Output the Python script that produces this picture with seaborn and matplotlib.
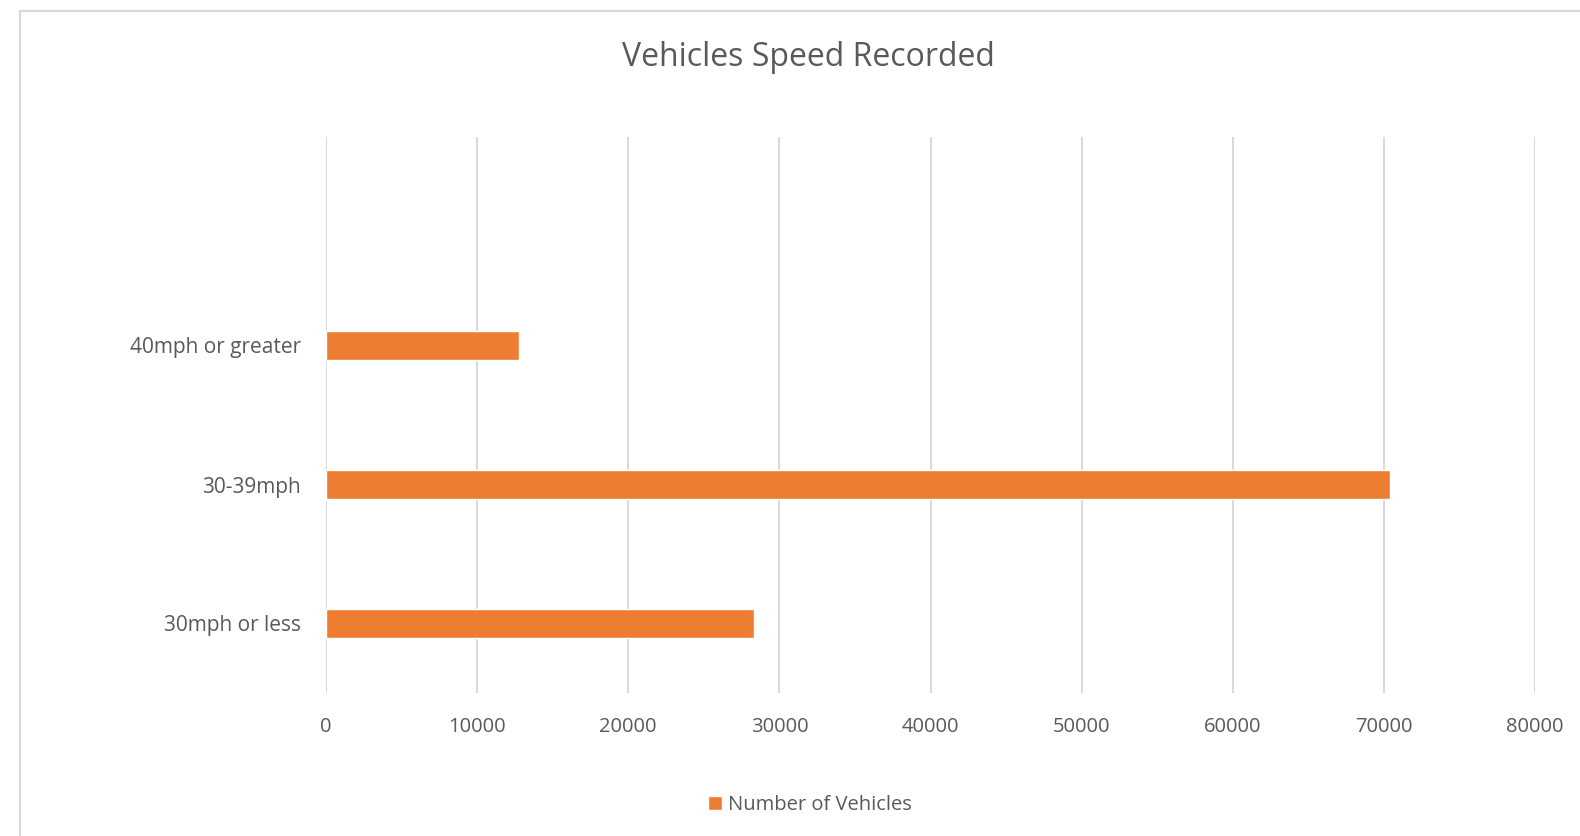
import pandas as pd
import matplotlib.pyplot as plt
import seaborn as sns
from matplotlib.lines import Line2D

# --- 데이터 ---
speed_bands = ["40mph or greater", "30-39mph", "30mph or less"]
vehicle_counts = [12800, 70400, 28300]
x_ticks = [0, 10000, 20000, 30000, 40000, 50000, 60000, 70000, 80000]

BAR_COLOR = "#ED7D31"
TEXT_COLOR = "#595959"
GRID_COLOR = "#D9D9D9"

sns.set_theme(style="white")
plt.rcParams["font.family"] = ["Open Sans", "DejaVu Sans"]

df = pd.DataFrame({"band": speed_bands, "count": vehicle_counts})

fig = plt.figure(figsize=(15.8, 8.36), dpi=100)
ax = fig.add_axes([326 / 1580, 1 - 693 / 836, (1535 - 326) / 1580, (693 - 137) / 836])

sns.barplot(data=df, x="count", y="band", order=speed_bands, color=BAR_COLOR,
            saturation=1, width=0.21, orient="h", label="Number of Vehicles", ax=ax)

ax.set_xlim(0, 80000)
ax.set_ylim(2.5, -1.5)
ax.set_xticks(x_ticks)
ax.set_xticklabels([str(t) for t in x_ticks])
ax.grid(axis="x", color=GRID_COLOR, linewidth=1.4)
ax.grid(axis="y", visible=False)
ax.set_axisbelow(True)
for s in ax.spines.values():
    s.set_visible(False)
ax.tick_params(axis="x", length=0, pad=17, labelsize=14.5, labelcolor=TEXT_COLOR)
ax.tick_params(axis="y", length=0, pad=18, labelsize=15, labelcolor=TEXT_COLOR)
ax.set_xlabel("")
ax.set_ylabel("")
if ax.get_legend() is not None:
    ax.get_legend().remove()

fig.text(808 / 1580, 1 - 57 / 836, "Vehicles Speed Recorded", ha="center", va="center",
         fontsize=23, color=TEXT_COLOR)

handles, labels = ax.get_legend_handles_labels()
fig.legend(handles, labels, loc="center", bbox_to_anchor=(810 / 1580, 1 - 805 / 836),
           frameon=False, fontsize=14.5, labelcolor=TEXT_COLOR, handlelength=0.7,
           handleheight=0.7, handletextpad=0.3)

# 바깥 테두리
fig.add_artist(Line2D([20 / 1580, 1], [1 - 11 / 836] * 2, color=GRID_COLOR, lw=1.6))
fig.add_artist(Line2D([20 / 1580] * 2, [0, 1 - 11 / 836], color=GRID_COLOR, lw=1.6))

fig.savefig("out.png", dpi=100)
plt.close(fig)
